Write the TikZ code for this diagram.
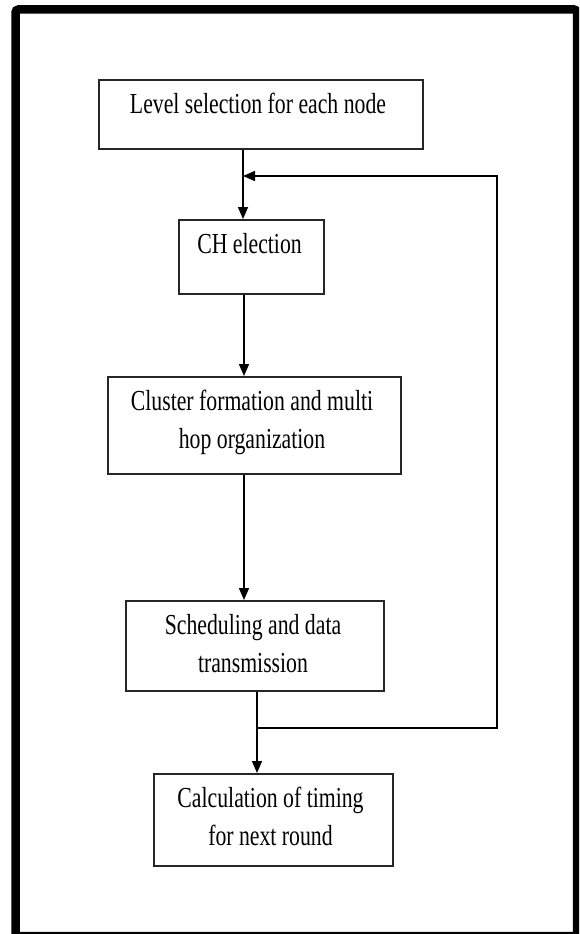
\documentclass[tikz,border=0pt]{standalone}
\usepackage{fontspec}
\setmainfont[FakeStretch=0.75]{Liberation Serif}
\usetikzlibrary{arrows.meta}
\begin{document}
\begin{tikzpicture}[x=1pt,y=-1pt,
  stepbox/.style={draw=black!85, line width=1.6pt, inner sep=0pt, anchor=north west},
  steptext/.style={anchor=base, inner sep=0pt, font=\fontsize{29}{38}\selectfont},
  flow/.style={draw=black, line width=1.6pt, -{Triangle[length=12pt,width=10pt]}},
  frame/.style={draw=black, line width=8.5pt, rounded corners=3pt}]
\useasboundingbox (0,0) rectangle (579,934);
\clip (0,0) rectangle (579,934);

% outer frame
\draw[frame] (15.5,9.5) rectangle (577,936);

% process boxes
\node[stepbox, minimum width=324pt, minimum height=69pt] (b1) at (98,79) {};
\node[stepbox, minimum width=145pt, minimum height=74pt] (b2) at (178,219) {};
\node[stepbox, minimum width=293pt, minimum height=97pt] (b3) at (107,376) {};
\node[stepbox, minimum width=258pt, minimum height=90pt] (b4) at (125,600) {};
\node[stepbox, minimum width=239pt, minimum height=92pt] (b5) at (153,773) {};

% box texts
\node[steptext] (t1)  at (258,113)   {Level selection for each node};
\node[steptext] (t2)  at (249.5,253) {CH election};
\node[steptext] (t3a) at (252,410)   {Cluster formation and multi};
\node[steptext] (t3b) at (252,448)   {hop organization};
\node[steptext] (t4a) at (253,634)   {Scheduling and data};
\node[steptext] (t4b) at (253,672)   {transmission};
\node[steptext] (t5a) at (270.5,807) {Calculation of timing};
\node[steptext] (t5b) at (270.5,845) {for next round};

% connector routing points
\coordinate (merge)  at (243,176);
\coordinate (mid)    at (244,300);
\coordinate (split)  at (257,728);
\coordinate (loopBR) at (497,728);
\coordinate (loopTR) at (497,176);

% main flow
\draw[flow] (b1.south -| merge) -- (b2.north -| merge);
\draw[flow] (b2.south -| mid) -- (b3.north -| mid);
\draw[flow] (b3.south -| mid) -- (b4.north -| mid);
\draw[flow] (b4.south -| split) -- (b5.north -| split);

% feedback loop to the next round
\draw[flow] (split) -- (loopBR) -- (loopTR) -- (merge);
\end{tikzpicture}
\end{document}
